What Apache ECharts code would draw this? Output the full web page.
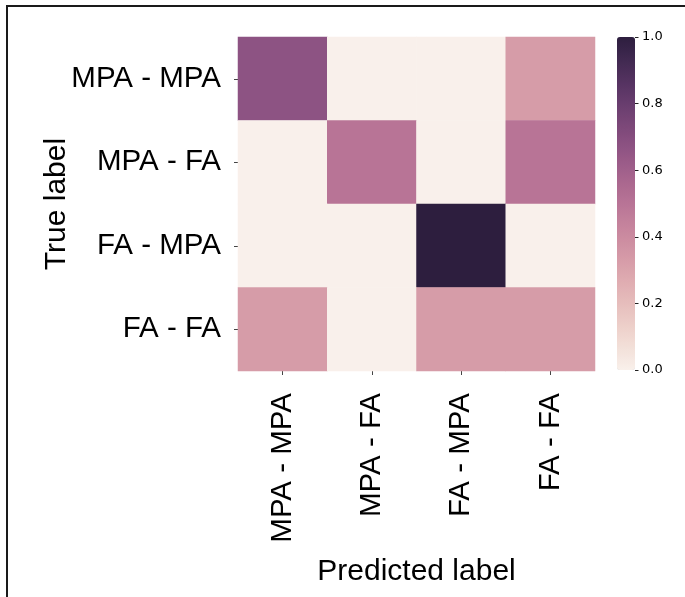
<!DOCTYPE html>
<html>
<head>
<meta charset="utf-8">
<script src="https://cdn.jsdelivr.net/npm/echarts@6/dist/echarts.min.js"></script>
<style>
html,body{margin:0;padding:0;background:#fff;}
#chart{width:685px;height:597px;}
</style>
</head>
<body>
<div id="chart"></div>
<script>
// ---- data ----
const predictedLabels = ['MPA - MPA', 'MPA - FA', 'FA - MPA', 'FA - FA'];
const trueLabels = ['MPA - MPA', 'MPA - FA', 'FA - MPA', 'FA - FA'];
const rowMPA_MPA = [0.67, 0, 0, 0.33];
const rowMPA_FA = [0, 0.5, 0, 0.5];
const rowFA_MPA = [0, 0, 1.0, 0];
const rowFA_FA = [0.33, 0, 0.33, 0.33];
const colorbarTicks = [0, 0.2, 0.4, 0.6, 0.8, 1.0];

const rows = [rowMPA_MPA, rowMPA_FA, rowFA_MPA, rowFA_FA];
const cells = [];
rows.forEach((row, yi) => row.forEach((v, xi) => cells.push([xi, yi, v])));

// seaborn-like cubehelix colormap (style only)
function cubehelix(x) {
  const s = 0, r = 0.4, h = 0.8;
  const a = h * x * (1 - x) / 2;
  const phi = 2 * Math.PI * (s / 3 + r * x);
  const c = Math.cos(phi), sn = Math.sin(phi);
  const R = x + a * (-0.14861 * c + 1.78277 * sn);
  const G = x + a * (-0.29227 * c - 0.90649 * sn);
  const B = x + a * (1.97294 * c);
  const f = t => Math.round(Math.max(0, Math.min(1, t)) * 255);
  return 'rgb(' + f(R) + ',' + f(G) + ',' + f(B) + ')';
}
const palette = [];
for (let i = 0; i <= 40; i++) {
  const v = i / 40;
  palette.push(cubehelix(0.95 + (0.15 - 0.95) * v));
}

const FONT = 'Liberation Sans, Arial, sans-serif';
const chart = echarts.init(document.getElementById('chart'), null, {renderer: 'canvas'});
chart.setOption({
  backgroundColor: '#fff',
  animation: false,
  graphic: [{
    type: 'rect',
    shape: {x: 7, y: 6, width: 700, height: 620},
    style: {fill: 'none', stroke: '#1a1a1a', lineWidth: 2},
    silent: true
  }],
  grid: [
    {left: 238, top: 37, width: 357, height: 334},
    {left: 617, top: 37, width: 18, height: 333}
  ],
  xAxis: [{
    type: 'category', gridIndex: 0, data: predictedLabels,
    axisLine: {show: false},
    axisTick: {show: true, length: 4, alignWithLabel: true, lineStyle: {color: '#444'}},
    axisLabel: {rotate: 90, fontSize: 29.5, fontFamily: FONT, color: '#000', margin: 22},
    splitLine: {show: false},
    name: 'Predicted label', nameLocation: 'middle', nameGap: 186,
    nameTextStyle: {fontSize: 30, fontFamily: FONT, color: '#000'}
  }, {
    type: 'value', gridIndex: 1, show: false, min: 0, max: 1
  }],
  yAxis: [{
    type: 'category', gridIndex: 0, data: trueLabels, inverse: true,
    axisLine: {show: false},
    axisTick: {show: true, length: 4, alignWithLabel: true, lineStyle: {color: '#444'}},
    axisLabel: {fontSize: 29.5, fontFamily: FONT, color: '#000', margin: 17},
    splitLine: {show: false},
    name: 'True label', nameLocation: 'middle', nameGap: 166, nameMoveOverlap: false,
    nameTextStyle: {fontSize: 30, fontFamily: FONT, color: '#000'}
  }, {
    type: 'value', gridIndex: 1, position: 'right', min: 0, max: 1, interval: 0.2,
    z: 20,
    axisLine: {show: false, onZero: false},
    axisTick: {show: true, inside: false, length: 3.5, lineStyle: {color: '#222', width: 1}},
    axisLabel: {fontSize: 13, fontFamily: 'DejaVu Sans, sans-serif', color: '#000', margin: 7,
      formatter: v => v.toFixed(1)},
    splitLine: {show: false}
  }],
  visualMap: {
    type: 'continuous', min: 0, max: 1, calculable: false, show: true,
    orient: 'vertical', left: 617, top: 37, padding: 0, z: 1,
    itemWidth: 18, itemHeight: 333, text: null, showLabel: false,
    inRange: {color: palette},
    seriesIndex: 0
  },
  series: [{
    type: 'heatmap', xAxisIndex: 0, yAxisIndex: 0, data: cells,
    itemStyle: {borderWidth: 0},
    emphasis: {disabled: true},
    label: {show: false}
  }]
});
</script>
</body>
</html>
